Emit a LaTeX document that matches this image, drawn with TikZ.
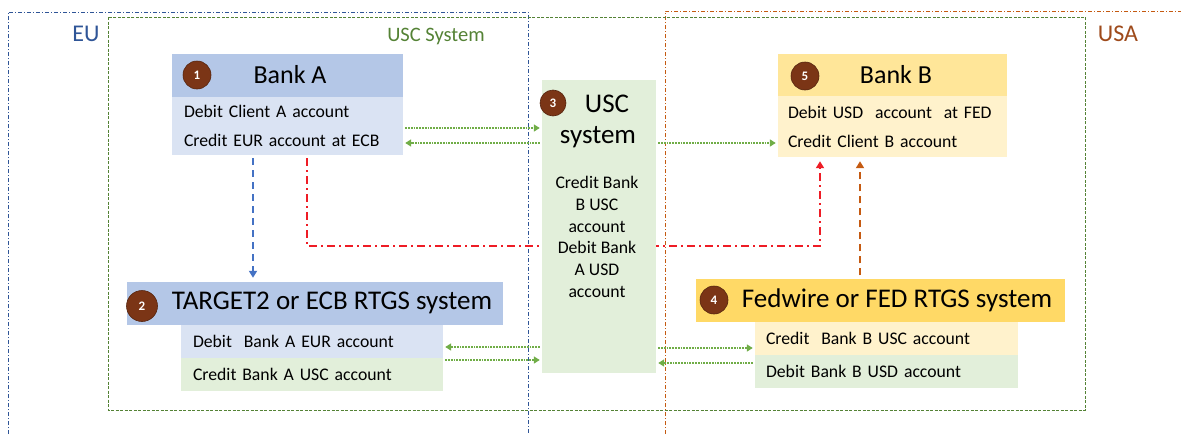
\documentclass[tikz,border=0pt]{standalone}
\usepackage{fontspec}
\setmainfont{Carlito}
\usetikzlibrary{arrows.meta}
\definecolor{bleuEU}{HTML}{2F5597}
\definecolor{bleuFleche}{HTML}{4472C4}
\definecolor{vertUSC}{HTML}{548235}
\definecolor{vertFleche}{HTML}{70AD47}
\definecolor{brunUSA}{HTML}{C55A11}
\definecolor{brunTexte}{HTML}{9E4A1B}
\definecolor{rougeFleche}{HTML}{EE1C25}
\definecolor{bleuEntete}{HTML}{B4C7E7}
\definecolor{bleuClair}{HTML}{DAE3F3}
\definecolor{vertClair}{HTML}{E2EFDA}
\definecolor{orEntete}{HTML}{FFD966}
\definecolor{orClair}{HTML}{FFE699}
\definecolor{jauneClair}{HTML}{FFF2CC}
\definecolor{pastilleBrun}{HTML}{7B3516}
\begin{document}
\begin{tikzpicture}[x=1pt,y=-1pt]
			\tikzstyle{cadre}=[line width=0.8pt]
			\tikzstyle{entete}=[rectangle,inner sep=0pt,minimum height=43pt]
			\tikzstyle{ligne}=[rectangle,inner ysep=0pt,align=left,font=\petit]
			\tikzstyle{titre}=[inner sep=0pt,font=\grand]
			\tikzstyle{pastille}=[circle,fill=pastilleBrun,draw=pastilleBrun!70!black,line width=0.6pt,minimum size=28pt,inner sep=0pt,text=white,font=\fontsize{13}{13}\selectfont\bfseries]
			\tikzstyle{echange}=[vertFleche,line width=1.8pt,densely dotted,-{Triangle[length=6pt,width=7pt]},shorten <=2pt,shorten >=2pt]
			\tikzstyle{fleche}=[line width=1.8pt,-{Triangle[length=7pt,width=8pt]},shorten <=3pt,shorten >=4pt]
			\def\petit{\fontsize{17.7}{29}\selectfont}
			\def\grand{\fontsize{26}{31}\selectfont}
			\useasboundingbox (0,0) rectangle (1181,434);
			% zones
			\draw[cadre,bleuEU,dash pattern=on 4pt off 2pt on 1pt off 2pt] (8,434) -- (8,12) -- (528,12) -- (528,434);
			\draw[cadre,brunUSA,dash pattern=on 4pt off 2pt on 1pt off 2pt] (665,434) -- (665,11) -- (1181,11);
			\draw[cadre,vertUSC,dash pattern=on 3pt off 1.5pt] (108,17) rectangle (1085,410);
			\node[text=bleuEU,font=\fontsize{24}{28}\selectfont] (EU) at (86,34) {EU};
			\node[text=vertUSC,font=\fontsize{20.5}{24}\selectfont] (USCs) at (436,36) {USC System};
			\node[text=brunTexte,font=\fontsize{24}{28}\selectfont] (USA) at (1118,34) {USA};
			% Bank A
			\node[entete,fill=bleuEntete,minimum width=231pt] (bA) at (287.5,75) {};
			\node[titre] (bAt) at (290,75) {Bank A};
			\node[ligne,fill=bleuClair,text width=207pt,inner xsep=12pt,minimum height=58pt] (bAc) at (287.5,126) {Debit Client A account\\Credit EUR account at ECB};
			\node[pastille] (n1) at (197,75) {1};
			% Bank B
			\node[entete,fill=orClair,minimum width=229pt] (bB) at (892.5,75) {};
			\node[titre] (bBt) at (896,75) {Bank B};
			\node[ligne,fill=jauneClair,text width=209pt,inner xsep=10pt,minimum height=61pt] (bBc) at (892.5,126.5) {Debit USD\ \ account\ \ at FED\\Credit Client B account};
			\node[pastille] (n5) at (805,76) {5};
			% TARGET2
			\node[entete,fill=bleuEntete,minimum width=376pt] (T2) at (315,303.5) {};
			\node[titre,font=\fontsize{27}{32}\selectfont] (T2t) at (332,303) {TARGET2 or ECB RTGS system};
			\node[ligne,fill=bleuClair,text width=238pt,inner xsep=12pt,minimum height=33pt] (T2a) at (312,341.5) {Debit\ \ Bank A EUR account};
			\node[ligne,fill=vertClair,text width=238pt,inner xsep=12pt,minimum height=33pt] (T2b) at (312,374.5) {Credit Bank A USC account};
			\node[pastille,minimum size=31pt] (n2) at (142,306) {2};
			% Fedwire
			\node[entete,fill=orEntete,minimum width=369pt] (FW) at (880.5,300) {};
			\node[titre,font=\fontsize{27}{32}\selectfont] (FWt) at (897,300) {Fedwire or FED RTGS system};
			\node[ligne,fill=jauneClair,text width=241pt,inner xsep=11pt,minimum height=33pt] (FWa) at (886.5,338.5) {Credit\ \ Bank B USC account};
			\node[ligne,fill=vertClair,text width=241pt,inner xsep=11pt,minimum height=33pt] (FWb) at (886.5,371.5) {Debit Bank B USD account};
			\node[pastille] (n4) at (714,300) {4};
			% paiements
			\draw[fleche,bleuFleche,dash pattern=on 7pt off 5pt] (bAc.south -| 253,0) -- (T2.north -| 253,0);
			\draw[fleche,rougeFleche,dash pattern=on 8pt off 4pt on 2pt off 4pt] (bAc.south -| 307,0) -- (307,246) -| (bBc.south -| 820,0);
			\draw[fleche,brunUSA,dash pattern=on 7pt off 5pt] (FW.north -| 860,0) -- (bBc.south -| 860,0);
			% USC
			\node[rectangle,fill=vertClair,minimum width=114pt,minimum height=293pt,inner sep=0pt] (USC) at (599,226.5) {};
			\node[titre,font=\fontsize{27}{32}\selectfont] (USCt) at (607,104) {USC};
			\node[titre,font=\fontsize{27}{32}\selectfont] (USCu) at (598,137) {system};
			\node[font=\fontsize{17.7}{21.7}\selectfont,align=center,inner sep=0pt] (USCc) at (597,237) {Credit Bank\\B USC\\account\\Debit Bank\\A USD\\account};
			\node[pastille,minimum size=26pt] (n3) at (553,103) {3};
			% echanges
			\draw[echange] (bAc.east |- 0,128) -- (USC.west |- 0,128);
			\draw[echange] (USC.west |- 0,143) -- (bAc.east |- 0,143);
			\draw[echange] (USC.east |- 0,143) -- (bBc.west |- 0,143);
			\draw[echange] (USC.west |- 0,347) -- (T2a.east |- 0,347);
			\draw[echange] (T2b.east |- 0,360) -- (USC.west |- 0,360);
			\draw[echange] (USC.east |- 0,348) -- (FWa.west |- 0,348);
			\draw[echange] (FWb.west |- 0,363) -- (USC.east |- 0,363);
		\end{tikzpicture}
\end{document}
